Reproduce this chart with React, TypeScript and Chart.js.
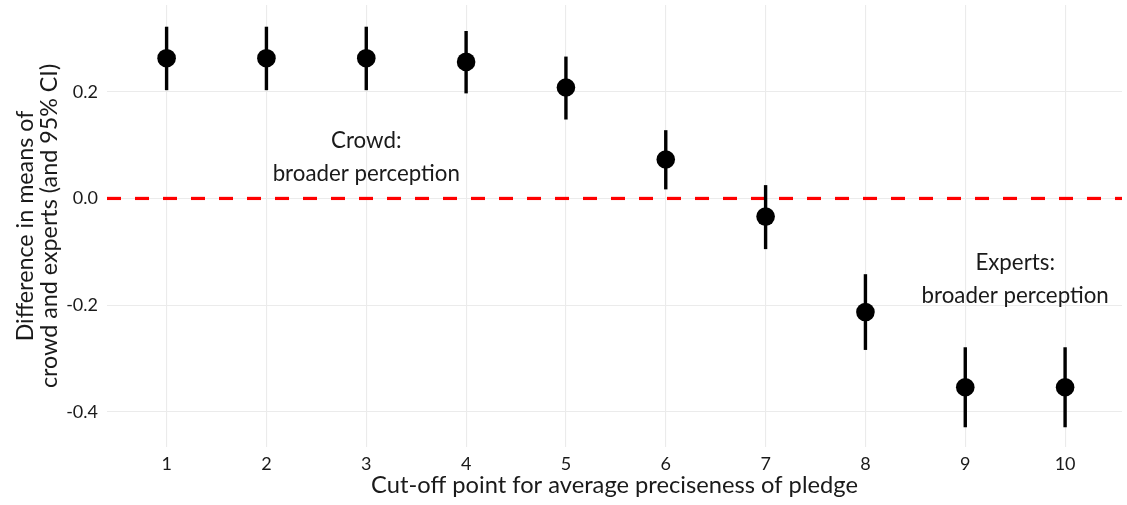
import React, { useEffect, useRef } from "react";
import { Chart, registerables } from "chart.js";

Chart.register(...registerables);

// ---- Data ----
const cutoffs = [1, 2, 3, 4, 5, 6, 7, 8, 9, 10];
const meanDiff = [0.263, 0.263, 0.263, 0.256, 0.208, 0.073, -0.034, -0.213, -0.354, -0.354];
const ciLower = [0.203, 0.203, 0.203, 0.197, 0.148, 0.017, -0.095, -0.284, -0.429, -0.429];
const ciUpper = [0.322, 0.322, 0.322, 0.314, 0.266, 0.128, 0.025, -0.142, -0.279, -0.279];
const xTicks = [1, 2, 3, 4, 5, 6, 7, 8, 9, 10];
const yTicks = [-0.4, -0.2, 0, 0.2];
const referenceY = 0;
const annotationLines = [
  ["Crowd:", "broader perception"],
  ["Experts:", "broader perception"],
];
const annotationX = [3, 9.5];
const annotationY = [0.078, -0.152];
const xTitle = "Cut-off point for average preciseness of pledge";
const yTitle = ["Difference in means of", "crowd and experts (and 95% CI)"];

const FONT = "Lato, 'Source Sans Pro', 'Noto Sans', sans-serif";
const TEXT = "#1a1a1a";

const overlayPlugin = {
  id: "overlay",
  beforeDatasetsDraw(chart: any) {
    const { ctx, chartArea, scales } = chart;
    const xs = scales.x;
    const ys = scales.y;
    ctx.save();
    // reference line
    const y0 = ys.getPixelForValue(referenceY);
    ctx.strokeStyle = "#ff0000";
    ctx.lineWidth = 3.2;
    ctx.setLineDash([14, 14]);
    ctx.lineCap = "butt";
    ctx.beginPath();
    ctx.moveTo(chartArea.left, y0);
    ctx.lineTo(chartArea.right, y0);
    ctx.stroke();
    ctx.setLineDash([]);
    // error bars
    ctx.strokeStyle = "#000000";
    ctx.lineWidth = 3.4;
    for (let i = 0; i < cutoffs.length; i++) {
      const x = xs.getPixelForValue(cutoffs[i]);
      ctx.beginPath();
      ctx.moveTo(x, ys.getPixelForValue(ciLower[i]));
      ctx.lineTo(x, ys.getPixelForValue(ciUpper[i]));
      ctx.stroke();
    }
    ctx.restore();
  },
  afterDatasetsDraw(chart: any) {
    const { ctx, scales } = chart;
    ctx.save();
    ctx.fillStyle = TEXT;
    ctx.font = `22.3px ${FONT}`;
    ctx.textAlign = "center";
    ctx.textBaseline = "middle";
    for (let i = 0; i < annotationLines.length; i++) {
      const cx = scales.x.getPixelForValue(annotationX[i]);
      const cy = scales.y.getPixelForValue(annotationY[i]);
      const lines = annotationLines[i];
      const lh = 33;
      const start = cy - ((lines.length - 1) * lh) / 2;
      lines.forEach((t, j) => ctx.fillText(t, cx, start + j * lh));
    }
    ctx.restore();
  },
};

export default function App() {
  const ref = useRef<HTMLCanvasElement | null>(null);
  useEffect(() => {
    if (!ref.current) return;
    const chart = new Chart(ref.current, {
      type: "scatter",
      data: {
        datasets: [
          {
            data: cutoffs.map((c, i) => ({ x: c, y: meanDiff[i] })),
            backgroundColor: "#000000",
            borderColor: "#000000",
            pointRadius: 9.3,
            pointBorderWidth: 0,
          },
        ],
      },
      options: {
        animation: false,
        responsive: false,
        maintainAspectRatio: false,
        layout: { autoPadding: false, padding: { left: 0, right: 5, top: 5, bottom: 0 } },
        plugins: { legend: { display: false }, tooltip: { enabled: false } },
        scales: {
          x: {
            type: "linear",
            min: 0.403,
            max: 10.57,
            afterBuildTicks: (s: any) => {
              s.ticks = xTicks.map((v) => ({ value: v }));
            },
            afterFit: (s: any) => {
              s.height = 58;
              s.paddingLeft = 0;
              s.paddingRight = 0;
            },
            grid: { color: "#ebebeb", lineWidth: 1.1, drawTicks: false },
            border: { display: false },
            ticks: {
              padding: 6,
              color: TEXT,
              font: { family: FONT, size: 18 },
              callback: (v: any) => String(v),
            },
            title: {
              display: true,
              text: xTitle,
              color: TEXT,
              font: { family: FONT, size: 23.7, lineHeight: 1.05 },
              padding: { top: 0, bottom: 7 },
            },
          },
          y: {
            type: "linear",
            min: -0.466,
            max: 0.3627,
            afterBuildTicks: (s: any) => {
              s.ticks = yTicks.map((v) => ({ value: v }));
            },
            afterFit: (s: any) => {
              s.width = 107;
              s.paddingTop = 0;
              s.paddingBottom = 0;
            },
            grid: { color: "#ebebeb", lineWidth: 1.1, drawTicks: false },
            border: { display: false },
            ticks: {
              padding: 9,
              color: TEXT,
              font: { family: FONT, size: 18 },
              callback: (v: any) => Number(v).toFixed(1),
            },
            title: {
              display: true,
              text: yTitle,
              color: TEXT,
              font: { family: FONT, size: 23.3, lineHeight: 1.05 },
              padding: { top: 13, bottom: 0 },
            },
          },
        },
      },
      plugins: [overlayPlugin],
    });
    return () => chart.destroy();
  }, []);
  return (
    <div style={{ position: "absolute", left: 0, top: 0, width: 1127, height: 505, background: "#ffffff" }}>
      <canvas ref={ref} width={1127} height={505} />
    </div>
  );
}
